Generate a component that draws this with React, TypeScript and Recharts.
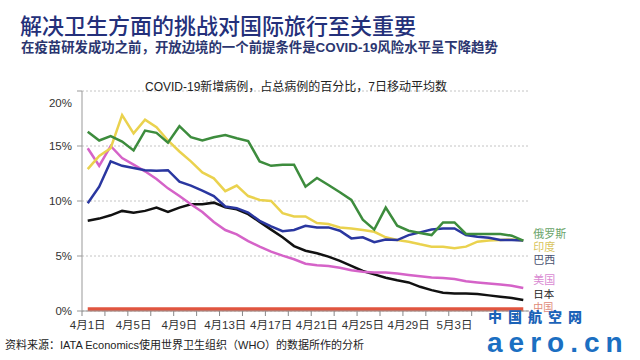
import React from 'react';
import { LineChart, Line, XAxis, YAxis, CartesianGrid } from 'recharts';

// 日期（4月1日 - 5月9日）
const dates = [
  '4月1日', '4月2日', '4月3日', '4月4日', '4月5日', '4月6日', '4月7日', '4月8日', '4月9日', '4月10日',
  '4月11日', '4月12日', '4月13日', '4月14日', '4月15日', '4月16日', '4月17日', '4月18日', '4月19日', '4月20日',
  '4月21日', '4月22日', '4月23日', '4月24日', '4月25日', '4月26日', '4月27日', '4月28日', '4月29日', '4月30日',
  '5月1日', '5月2日', '5月3日', '5月4日', '5月5日', '5月6日', '5月7日', '5月8日', '5月9日',
];

const tickLabels = ['4月1日', '4月5日', '4月9日', '4月13日', '4月17日', '4月21日', '4月25日', '4月29日', '5月3日'];
const yTicks = [0, 5, 10, 15, 20];

// 各国新增病例占总病例百分比（%）
const russia = [
  16.3, 15.5, 15.9, 15.4, 14.6, 16.4, 16.2, 15.3, 16.8, 15.8,
  15.5, 15.8, 16.0, 15.7, 15.45, 13.6, 13.2, 13.3, 13.3, 11.3,
  12.1, 11.45, 10.8, 10.1, 8.3, 7.4, 9.4, 7.75, 7.3, 7.1,
  6.9, 8.05, 8.05, 7.0, 7.0, 7.0, 7.0, 6.85, 6.4,
];
const india = [
  12.9, 14.1, 14.8, 17.8, 16.15, 17.4, 16.7, 15.5, 14.5, 13.6,
  12.6, 12.06, 10.9, 11.4, 10.45, 10.1, 10.0, 8.9, 8.6, 8.6,
  8.0, 7.9, 7.6, 7.5, 7.36, 7.2, 6.7, 6.45, 6.3, 6.06,
  5.85, 5.85, 5.7, 5.85, 6.3, 6.4, 6.45, 6.5, 6.4,
];
const brazil = [
  9.8, 11.3, 13.6, 13.2, 13.0, 12.8, 12.75, 12.8, 11.75, 11.4,
  10.95, 10.45, 9.5, 9.35, 8.95, 8.2, 7.7, 7.25, 7.36, 7.75,
  7.6, 7.6, 7.3, 6.6, 6.7, 6.25, 6.5, 6.45, 6.9, 7.15,
  7.4, 7.5, 7.5, 6.9, 6.75, 6.65, 6.45, 6.45, 6.4,
];
const usa = [
  14.8, 13.2, 15.0, 13.9, 13.3, 12.7, 12.0, 11.15, 10.45, 9.7,
  9.0, 8.1, 7.36, 6.97, 6.36, 5.85, 5.4, 5.03, 4.7, 4.3,
  4.15, 4.1, 3.94, 3.7, 3.57, 3.5, 3.5, 3.4, 3.27, 3.15,
  3.05, 3.0, 2.9, 2.7, 2.6, 2.5, 2.4, 2.3, 2.1,
];
const japan = [
  8.2, 8.4, 8.7, 9.1, 8.94, 9.1, 9.4, 9.0, 9.4, 9.7,
  9.7, 9.85, 9.43, 9.25, 8.8, 8.1, 7.4, 6.7, 5.9, 5.48,
  5.25, 4.94, 4.55, 4.1, 3.64, 3.33, 3.03, 2.8, 2.6, 2.2,
  1.9, 1.66, 1.6, 1.6, 1.55, 1.42, 1.3, 1.18, 1.0,
];
const china = [
  0.15, 0.15, 0.15, 0.15, 0.15, 0.15, 0.15, 0.15, 0.15, 0.15,
  0.15, 0.15, 0.15, 0.15, 0.15, 0.15, 0.15, 0.15, 0.15, 0.15,
  0.15, 0.15, 0.15, 0.15, 0.15, 0.15, 0.15, 0.15, 0.15, 0.15,
  0.15, 0.15, 0.15, 0.15, 0.15, 0.15, 0.15, 0.15, 0.15,
];

const chartData = dates.map((date, i) => ({
  date,
  china: china[i],
  japan: japan[i],
  usa: usa[i],
  india: india[i],
  brazil: brazil[i],
  russia: russia[i],
}));

// 绘制顺序：先画的在下面
const series = [
  { key: 'china', name: '中国', color: '#e0553f', labelColor: '#e08a78', width: 4, dy: -2, size: 10 },
  { key: 'japan', name: '日本', color: '#111111', labelColor: '#222222', width: 2.5, dy: -6, size: 10.5 },
  { key: 'usa', name: '美国', color: '#d563c8', labelColor: '#d98ad2', width: 2.5, dy: -8, size: 11 },
  { key: 'india', name: '印度', color: '#ead24e', labelColor: '#d9c560', width: 2.5, dy: 6, size: 11 },
  { key: 'brazil', name: '巴西', color: '#2a37a0', labelColor: '#4a5270', width: 2.5, dy: 19, size: 11 },
  { key: 'russia', name: '俄罗斯', color: '#3d8c3d', labelColor: '#6aa46a', width: 2.5, dy: -7, size: 11 },
];

const FONT = '"Liberation Sans", "Noto Sans CJK SC", sans-serif';
const HALF_STEP = 447 / dates.length / 2;

function DateTick(props: any) {
  const { x, y, payload } = props;
  const i = props.index ?? payload.index;
  return (
    <g>
      {i % 2 === 0 && (
        <line x1={x - HALF_STEP} x2={x - HALF_STEP} y1={y} y2={y + 5} stroke="#888" />
      )}
      {tickLabels.includes(payload.value) && (
        <text x={x} y={y + 18} textAnchor="middle" fontSize={11.5} fill="#333">
          {payload.value}
        </text>
      )}
    </g>
  );
}

function PercentTick(props: any) {
  const { x, y, payload } = props;
  // 原图中 20% 的标签略低于网格线
  const shift = payload.value === 20 ? 12 : 0;
  return (
    <text x={x} y={y + shift} dy={4} textAnchor="end" fontSize={11.5} fill="#333">
      {`${payload.value}%`}
    </text>
  );
}

function endLabel(name: string, color: string, dy: number, size: number) {
  return (props: any) => {
    if (props.index !== dates.length - 1) return null;
    return (
      <text x={props.x + 10} y={props.y + dy} dy={size * 0.36} fontSize={size} fill={color}>
        {name}
      </text>
    );
  };
}

export default function App() {
  return (
    <div
      style={{
        position: 'absolute',
        left: 0,
        top: 0,
        width: 640,
        height: 360,
        background: '#fff',
        fontFamily: FONT,
        overflow: 'hidden',
      }}
    >
      <div
        style={{
          position: 'absolute',
          left: 20,
          top: 8,
          fontSize: 22,
          fontWeight: 500,
          color: '#24307a',
          whiteSpace: 'nowrap',
        }}
      >
        解决卫生方面的挑战对国际旅行至关重要
      </div>
      <div
        style={{
          position: 'absolute',
          left: 21,
          top: 36,
          fontSize: 13.4,
          fontWeight: 700,
          color: '#2b3670',
          whiteSpace: 'nowrap',
        }}
      >
        在疫苗研发成功之前，开放边境的一个前提条件是COVID-19风险水平呈下降趋势
      </div>

      <div style={{ position: 'absolute', left: 0, top: 0 }}>
        <LineChart
          width={640}
          height={360}
          data={chartData}
          margin={{ top: 91, right: 111, bottom: 19, left: 0 }}
        >
          <CartesianGrid vertical={false} stroke="#c4c4c4" strokeDasharray="2 2" />
          <XAxis
            dataKey="date"
            interval={0}
            height={30}
            padding={{ left: HALF_STEP, right: HALF_STEP }}
            tickSize={0}
            tickMargin={0}
            tickLine={false}
            axisLine={{ stroke: '#999' }}
            tick={<DateTick />}
          />
          <YAxis
            width={82}
            domain={[0, 20]}
            ticks={yTicks}
            tickSize={5}
            tickMargin={5}
            axisLine={{ stroke: '#999' }}
            tickLine={{ stroke: '#999' }}
            tick={<PercentTick />}
          />
          {series.map((s) => (
            <Line
              key={s.key}
              type="linear"
              dataKey={s.key}
              stroke={s.color}
              strokeWidth={s.width}
              dot={false}
              isAnimationActive={false}
              label={endLabel(s.name, s.labelColor, s.dy, s.size)}
            />
          ))}
        </LineChart>
      </div>

      <div
        style={{
          position: 'absolute',
          left: 0,
          top: 77,
          width: 592,
          textAlign: 'center',
          fontSize: 12,
          color: '#222',
          whiteSpace: 'nowrap',
        }}
      >
        COVID-19新增病例，占总病例的百分比，7日移动平均数
      </div>

      <div
        style={{
          position: 'absolute',
          left: 5,
          top: 336,
          fontSize: 11,
          color: '#222',
          whiteSpace: 'nowrap',
        }}
      >
        资料来源：IATA Economics使用世界卫生组织（WHO）的数据所作的分析
      </div>

      {/* 水印 */}
      <div
        style={{
          position: 'absolute',
          left: 488,
          top: 307,
          fontSize: 14,
          lineHeight: '20px',
          fontWeight: 900,
          letterSpacing: 6,
          color: '#1b63b8',
          whiteSpace: 'nowrap',
        }}
      >
        中国航空网
      </div>
      <div
        style={{
          position: 'absolute',
          left: 487,
          top: 327,
          fontSize: 28,
          fontWeight: 700,
          lineHeight: 'normal',
          letterSpacing: 6,
          color: '#1b6fc2',
          fontFamily: '"Liberation Sans", sans-serif',
          whiteSpace: 'nowrap',
        }}
      >
        aero.cn
      </div>
    </div>
  );
}
